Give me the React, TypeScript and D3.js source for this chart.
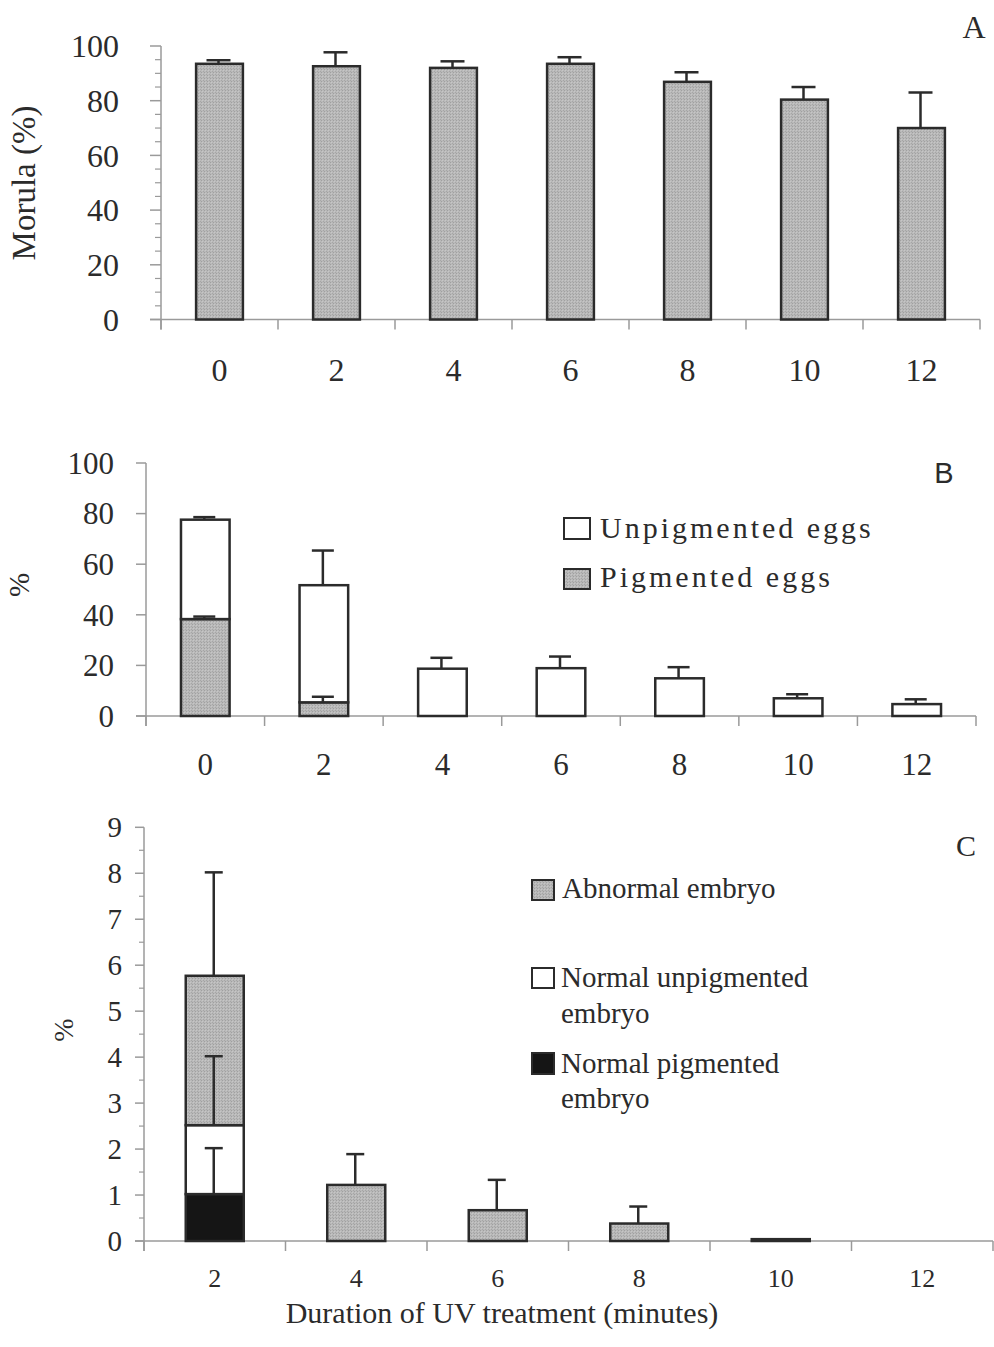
import React from 'react';
import * as d3 from 'd3';

// ---- data ----
const durationsAB = ['0', '2', '4', '6', '8', '10', '12'];
const durationsC = ['2', '4', '6', '8', '10', '12'];

// Panel A: morula (%)
const morulaPct = [93.5, 92.6, 92.0, 93.5, 86.9, 80.4, 70.0];
const morulaErr = [1.3, 5.1, 2.4, 2.4, 3.5, 4.6, 13.0];

// Panel B: stacked eggs (%)
const pigmentedEggs = [38.3, 5.4, 0, 0, 0, 0, 0];
const pigmentedEggsErr = [1.0, 2.2, 0, 0, 0, 0, 0];
const unpigmentedEggs = [39.3, 46.3, 18.7, 18.9, 14.9, 7.0, 4.7];
const unpigmentedEggsErr = [1.0, 13.7, 4.3, 4.6, 4.4, 1.6, 1.9];

// Panel C: stacked embryos (%)
const normalPigmented = [1.02, 0, 0, 0, 0, 0];
const normalPigmentedErr = [1.0, 0, 0, 0, 0, 0];
const normalUnpigmented = [1.5, 0, 0, 0, 0, 0];
const normalUnpigmentedErr = [1.5, 0, 0, 0, 0, 0];
const abnormalEmbryo = [3.25, 1.22, 0.67, 0.38, 0.04, 0];
const abnormalEmbryoErr = [2.25, 0.67, 0.66, 0.37, 0, 0];

const ticksA = [0, 20, 40, 60, 80, 100];
const ticksB = [0, 20, 40, 60, 80, 100];
const ticksC = [0, 1, 2, 3, 4, 5, 6, 7, 8, 9];

const SERIF = '"Liberation Serif", "Times New Roman", serif';
const SANS = '"Liberation Sans", Arial, sans-serif';
const INK = '#2b2b2b';
const AXIS = '#9a9a9a';
const GRAY = 'url(#stipple)';

type Seg = { values: number[]; err: number[]; fill: string };

function Panel(props: {
  cats: string[];
  xRange: [number, number];
  yRange: [number, number];
  yMax: number;
  ticks: number[];
  minorStep?: number;
  majorLen: number;
  minorLen: number;
  labelRight: number;
  yFont: number;
  xFont: number;
  xLabelY: number;
  pad: number;
  cap: number;
  segs: Seg[];
}) {
  const { cats, xRange, yRange, yMax, ticks, minorStep, majorLen, minorLen, labelRight, yFont, xFont, xLabelY, pad, cap, segs } = props;
  const x = d3.scaleBand<string>().domain(cats).range(xRange).paddingInner(pad).paddingOuter(pad / 2);
  const y = d3.scaleLinear().domain([0, yMax]).range(yRange);
  const step = x.step();
  const bw = x.bandwidth();
  const x0 = xRange[0];
  const minors = minorStep ? d3.range(0, yMax + 1e-9, minorStep).filter(v => !ticks.includes(v)) : [];
  const bounds = d3.range(cats.length + 1).map(i => x0 + i * step);

  const bars: JSX.Element[] = [];
  const errs: JSX.Element[] = [];
  cats.forEach((c, i) => {
    let base = 0;
    const bx = x(c)!;
    const cx = bx + bw / 2 - 1;
    segs.forEach((s, k) => {
      const v = s.values[i];
      const top = base + v;
      if (v > 0 || (k === 0 && segs.length > 1 && top === 0 && s.values.some(d => d > 0))) {
        bars.push(
          <rect key={`b${i}-${k}`} x={bx} y={y(top)} width={bw} height={Math.max(0, y(base) - y(top))}
            fill={s.fill} stroke={INK} strokeWidth={2.5} />
        );
      }
      if (s.err[i] > 0) {
        errs.push(
          <g key={`e${i}-${k}`} stroke={INK} strokeWidth={2.5}>
            <line x1={cx} x2={cx} y1={y(top)} y2={y(top + s.err[i])} />
            <line x1={cx - cap / 2} x2={cx + cap / 2} y1={y(top + s.err[i])} y2={y(top + s.err[i])} />
          </g>
        );
      }
      base = top;
    });
  });

  return (
    <g>
      {/* y axis */}
      <line x1={x0} x2={x0} y1={y(yMax)} y2={y(0) + 10} stroke={AXIS} strokeWidth={1.5} />
      {ticks.map(t => (
        <g key={`t${t}`}>
          <line x1={x0 - majorLen} x2={x0} y1={y(t)} y2={y(t)} stroke={AXIS} strokeWidth={1.5} />
          <text x={labelRight} y={y(t)} dy="0.35em" textAnchor="end" fontSize={yFont} fontFamily={SERIF} fill={INK}>{t}</text>
        </g>
      ))}
      {minors.map(t => (
        <line key={`m${t}`} x1={x0 - minorLen} x2={x0} y1={y(t)} y2={y(t)} stroke={AXIS} strokeWidth={1.2} />
      ))}
      {/* x axis */}
      <line x1={x0 - majorLen} x2={xRange[1]} y1={y(0)} y2={y(0)} stroke={AXIS} strokeWidth={1.5} />
      {bounds.map((b, i) => (
        <line key={`xb${i}`} x1={b} x2={b} y1={y(0)} y2={y(0) + 10} stroke={AXIS} strokeWidth={1.5} />
      ))}
      {cats.map(c => (
        <text key={`xl${c}`} x={x(c)! + bw / 2} y={xLabelY} textAnchor="middle" fontSize={xFont} fontFamily={SERIF} fill={INK}>{c}</text>
      ))}
      {bars}
      {errs}
    </g>
  );
}

export default function App() {
  return (
    <svg width={994} height={1347} style={{ position: 'absolute', left: 0, top: 0, background: '#fff' }}>
      <defs>
        <pattern id="stipple" width={3} height={3} patternUnits="userSpaceOnUse">
          <rect width={3} height={3} fill="#b9b9b9" />
          <rect width={1} height={1} fill="#a0a0a0" />
          <rect x={2} y={2} width={1} height={1} fill="#a6a6a6" />
          <rect x={1} y={1} width={1} height={1} fill="#c6c6c6" />
        </pattern>
      </defs>

      {/* ---- Panel A ---- */}
      <Panel cats={durationsAB} xRange={[161, 980]} yRange={[319.5, 46]} yMax={100}
        ticks={ticksA} minorStep={5} majorLen={11} minorLen={6} labelRight={119}
        yFont={32} xFont={32} xLabelY={381} pad={0.6} cap={24}
        segs={[{ values: morulaPct, err: morulaErr, fill: GRAY }]} />
      <text transform="translate(35,183) rotate(-90)" textAnchor="middle" fontSize={33} fontFamily={SERIF} fill={INK}>Morula (%)</text>
      <text x={974} y={38} textAnchor="middle" fontSize={32} fontFamily={SERIF} fill={INK}>A</text>

      {/* ---- Panel B ---- */}
      <Panel cats={durationsAB} xRange={[146, 976]} yRange={[716, 463]} yMax={100}
        ticks={ticksB} majorLen={10} minorLen={0} labelRight={114}
        yFont={31} xFont={31} xLabelY={775} pad={0.59} cap={22}
        segs={[
          { values: pigmentedEggs, err: pigmentedEggsErr, fill: GRAY },
          { values: unpigmentedEggs, err: unpigmentedEggsErr, fill: '#fff' },
        ]} />
      <text transform="translate(29,585) rotate(-90)" textAnchor="middle" fontSize={29} fontFamily={SERIF} fill={INK}>%</text>
      <text x={944} y={483} textAnchor="middle" fontSize={29} fontFamily={SANS} fill={INK}>B</text>
      <g fontFamily={SERIF} fontSize={30} fill={INK} letterSpacing={3}>
        <rect x={564} y={518} width={26} height={21} fill="#fff" stroke={INK} strokeWidth={2} />
        <text x={600} y={538}>Unpigmented eggs</text>
        <rect x={564} y={569} width={26} height={20} fill={GRAY} stroke={INK} strokeWidth={2} />
        <text x={600} y={587}>Pigmented eggs</text>
      </g>

      {/* ---- Panel C ---- */}
      <Panel cats={durationsC} xRange={[144, 993]} yRange={[1241, 827.3]} yMax={9}
        ticks={ticksC} minorStep={0.5} majorLen={9} minorLen={5} labelRight={122}
        yFont={29} xFont={26} xLabelY={1287} pad={0.59} cap={18}
        segs={[
          { values: normalPigmented, err: normalPigmentedErr, fill: '#151515' },
          { values: normalUnpigmented, err: normalUnpigmentedErr, fill: '#fff' },
          { values: abnormalEmbryo, err: abnormalEmbryoErr, fill: GRAY },
        ]} />
      <text transform="translate(73,1030) rotate(-90)" textAnchor="middle" fontSize={28} fontFamily={SERIF} fill={INK}>%</text>
      <text x={966} y={856} textAnchor="middle" fontSize={30} fontFamily={SERIF} fill={INK}>C</text>
      <text x={502} y={1323} textAnchor="middle" fontSize={30} fontFamily={SERIF} fill={INK}>Duration of UV treatment (minutes)</text>
      <g fontFamily={SERIF} fontSize={29} fill={INK}>
        <rect x={532} y={880} width={22} height={20} fill={GRAY} stroke={INK} strokeWidth={2} />
        <text x={562} y={898}>Abnormal embryo</text>
        <rect x={532} y={968} width={22} height={20} fill="#fff" stroke={INK} strokeWidth={2} />
        <text x={561} y={987}>Normal unpigmented</text>
        <text x={561} y={1023}>embryo</text>
        <rect x={532} y={1053} width={22} height={21} fill="#151515" stroke={INK} strokeWidth={2} />
        <text x={561} y={1073}>Normal pigmented</text>
        <text x={561} y={1108}>embryo</text>
      </g>
    </svg>
  );
}
